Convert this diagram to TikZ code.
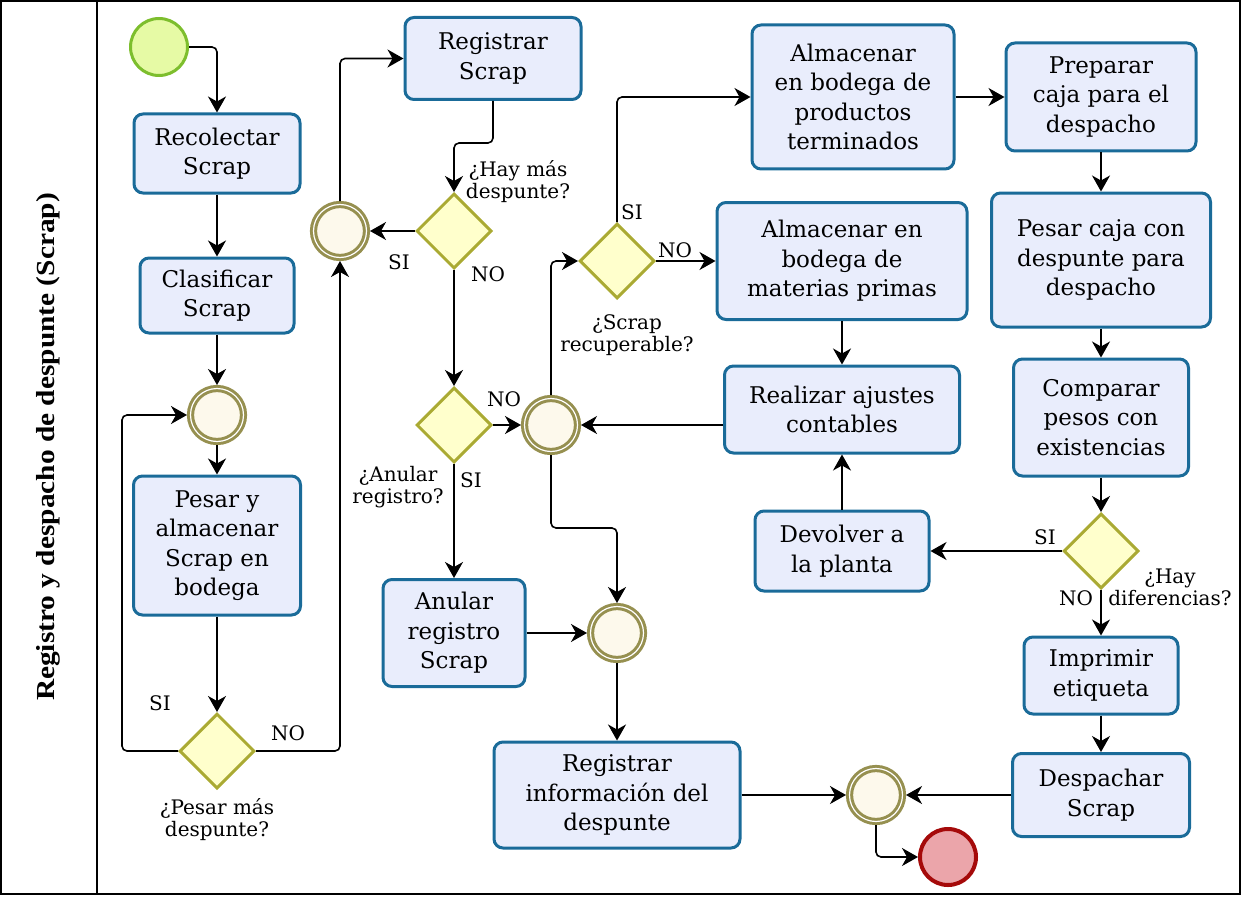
\documentclass[tikz,border=0pt]{standalone}
\usepackage{fontspec}
\setmainfont{DejaVu Serif}
\newfontfamily\taskfont{DejaVu Serif}
\newfontfamily\lanefont{Liberation Serif}
\usetikzlibrary{shapes.geometric, arrows.meta, calc}

\definecolor{taskfill}{RGB}{233,237,252}
\definecolor{taskline}{RGB}{26,107,153}
\definecolor{gwfill}{RGB}{255,255,204}
\definecolor{gwline}{RGB}{170,170,51}
\definecolor{evfill}{RGB}{253,249,236}
\definecolor{evline}{RGB}{150,144,80}
\definecolor{startfill}{RGB}{230,250,165}
\definecolor{startline}{RGB}{125,190,45}
\definecolor{endfill}{RGB}{235,165,170}
\definecolor{endline}{RGB}{165,10,10}

\begin{document}
\begin{tikzpicture}[x=1pt, y=-1pt,
  task/.style={rectangle, rounded corners=9pt, draw=taskline, fill=taskfill,
    line width=3pt, align=center, inner sep=2pt,
    font=\taskfont\fontsize{23}{29.5}\selectfont},
  gate/.style={diamond, aspect=1, minimum width=75pt, minimum height=75pt,
    inner sep=0pt, draw=gwline, fill=gwfill, line width=3pt},
  evt/.style={circle, minimum size=53pt, inner sep=0pt, outer sep=3.5pt,
    draw=evline, double=white, double distance=1.2pt, line width=3pt,
    fill=evfill},
  flow/.style={line width=1.6pt, rounded corners=5pt,
    -{Stealth[length=16pt,width=18pt,inset=5pt]}},
  lbl/.style={font=\taskfont\fontsize{20}{22}\selectfont, align=center, inner sep=0pt},
]
\useasboundingbox (0,0) rectangle (1241,896);

% pool frame and lane header
\draw[line width=2pt] (1,1) rectangle (1240,894);
\draw[line width=2pt] (97,1) -- (97,894);
\node[rotate=90, font=\lanefont\bfseries\fontsize{26}{30}\selectfont] (lane) at (48,447)
  {\scalebox{1.13}[1]{Registro y despacho de despunte (Scrap)}};

% events
\node[circle, minimum size=57pt, inner sep=0pt, draw=startline, fill=startfill,
  line width=3pt] (start) at (159,47) {};
\node[circle, minimum size=56pt, inner sep=0pt, draw=endline, fill=endfill,
  line width=4pt] (end) at (948,857) {};
\node[evt] (c1) at (217,415) {};
\node[evt] (c2) at (340,231) {};
\node[evt] (c3) at (551,425) {};
\node[evt] (c4) at (617,633) {};
\node[evt] (c5) at (876,795) {};

% gateways
\node[gate] (g1) at (217,751) {};
\node[gate] (g2) at (454,231) {};
\node[gate] (g3) at (454,425) {};
\node[gate] (g4) at (617,261) {};
\node[gate] (g5) at (1101,551) {};

% tasks
\node[task, minimum width=166pt, minimum height=79pt] (recolectar) at (217,153.5) {Recolectar\\Scrap};
\node[task, minimum width=154pt, minimum height=75pt] (clasificar) at (217,295.5) {Clasificar\\Scrap};
\node[task, minimum width=167pt, minimum height=139pt] (pesar) at (217,545.5) {Pesar y\\almacenar\\Scrap en\\bodega};
\node[task, minimum width=176pt, minimum height=82pt] (regscrap) at (493,58.5) {Registrar\\Scrap};
\node[task, minimum width=142pt, minimum height=107pt] (anular) at (454,633) {Anular\\registro\\Scrap};
\node[task, minimum width=246pt, minimum height=106pt] (reginfo) at (617,795) {Registrar\\información del\\despunte};
\node[task, minimum width=202pt, minimum height=144pt] (productos) at (853,97) {Almacenar\\en bodega de\\productos\\terminados};
\node[task, minimum width=250pt, minimum height=117pt] (materias) at (842,261) {Almacenar en\\bodega de\\materias primas};
\node[task, minimum width=235pt, minimum height=87pt] (ajustes) at (842,409.5) {Realizar ajustes\\contables};
\node[task, minimum width=174pt, minimum height=80pt] (devolver) at (842,551) {Devolver a\\la planta};
\node[task, minimum width=190pt, minimum height=108pt] (preparar) at (1101,97) {Preparar\\caja para el\\despacho};
\node[task, minimum width=219pt, minimum height=134pt] (pesarcaja) at (1101,260) {Pesar caja con\\despunte para\\despacho};
\node[task, minimum width=175pt, minimum height=117pt] (comparar) at (1101,417.5) {Comparar\\pesos con\\existencias};
\node[task, minimum width=154pt, minimum height=77pt] (imprimir) at (1101,675.5) {Imprimir\\etiqueta};
\node[task, minimum width=177pt, minimum height=83pt] (despachar) at (1101,795) {Despachar\\Scrap};

% bend points of the routed flows
\coordinate (lp) at (122,0);
\coordinate (j1) at (0,143);
\coordinate (j2) at (0,528);

% sequence flows
\draw[flow] (start.east) -| (recolectar.north);
\draw[flow] (recolectar.south) -- (clasificar.north);
\draw[flow] (clasificar.south) -- (c1.north);
\draw[flow] (c1.south) -- (pesar.north);
\draw[flow] (pesar.south) -- (g1.north);
\draw[flow] (g1.west) -- (g1.west -| lp) |- (c1.west);
\draw[flow] (g1.east) -| (c2.south);
\draw[flow] (c2.north) |- (regscrap.west);
\draw[flow] (regscrap.south) -- (regscrap.south |- j1) -| (g2.north);
\draw[flow] (g2.west) -- (c2.east);
\draw[flow] (g2.south) -- (g3.north);
\draw[flow] (g3.east) -- (c3.west);
\draw[flow] (g3.south) -- (anular.north);
\draw[flow] (c3.north) |- (g4.west);
\draw[flow] (c3.south) -- (c3.south |- j2) -| (c4.north);
\draw[flow] (anular.east) -- (c4.west);
\draw[flow] (c4.south) -- (reginfo.north);
\draw[flow] (reginfo.east) -- (c5.west);
\draw[flow] (c5.south) |- (end.west);
\draw[flow] (despachar.west) -- (c5.east);
\draw[flow] (g4.north) |- (productos.west);
\draw[flow] (g4.east) -- (materias.west);
\draw[flow] (materias.south) -- (ajustes.north);
\draw[flow] (c3.east -| ajustes.west) -- (c3.east);
\draw[flow] (devolver.north) -- (ajustes.south);
\draw[flow] (productos.east) -- (preparar.west);
\draw[flow] (preparar.south) -- (pesarcaja.north);
\draw[flow] (pesarcaja.south) -- (comparar.north);
\draw[flow] (comparar.south) -- (g5.north);
\draw[flow] (g5.west) -- (devolver.east);
\draw[flow] (g5.south) -- (imprimir.north);
\draw[flow] (imprimir.south) -- (despachar.north);

% gateway questions and branch labels
\node[lbl] (qA) at (217,820) {¿Pesar más\\despunte?};
\node[lbl] (siA) at (160,703) {SI};
\node[lbl] (noA) at (288,733) {NO};
\node[lbl] (qB) at (518,182) {¿Hay más\\despunte?};
\node[lbl] (siB) at (399,262) {SI};
\node[lbl] (noB) at (488,274) {NO};
\node[lbl] (qC) at (398,487) {¿Anular\\registro?};
\node[lbl] (noC) at (504,399) {NO};
\node[lbl] (siC) at (471,480) {SI};
\node[lbl] (qD) at (627,335) {¿Scrap\\recuperable?};
\node[lbl] (siD) at (632,212) {SI};
\node[lbl] (noD) at (675,250) {NO};
\node[lbl] (qE) at (1170,587) {¿Hay\\diferencias?};
\node[lbl] (siE) at (1045,537) {SI};
\node[lbl] (noE) at (1076,598) {NO};
\end{tikzpicture}
\end{document}
